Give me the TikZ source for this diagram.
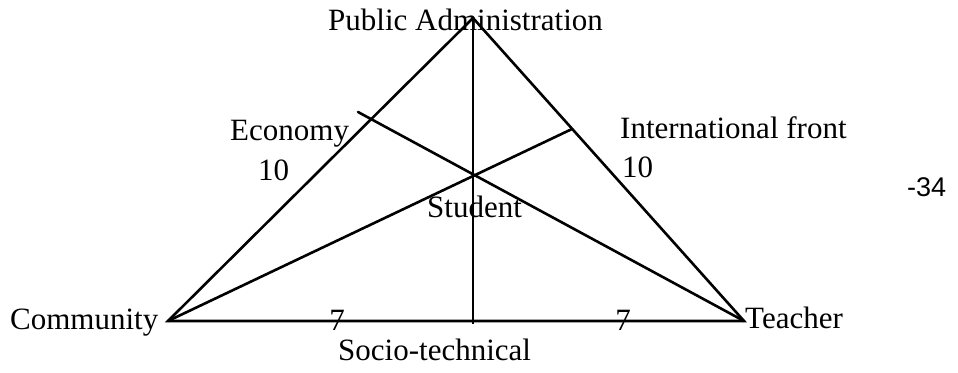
\documentclass[tikz,border=0pt]{standalone}
\usepackage{fontspec}
\setmainfont{Liberation Serif}
\newfontfamily\numfont{Liberation Sans}
\usepackage{tikz}
\usetikzlibrary{positioning,calc}

\tikzset{
  side/.style={line width=2.6pt, line cap=round},
  axis/.style={line width=1.8pt},
  lbl/.style={anchor=base west, inner sep=0pt, font=\fontsize{31}{36}\selectfont},
  num/.style={anchor=base, inner sep=0pt, font=\fontsize{31}{36}\selectfont}
}

\begin{document}
\begin{tikzpicture}[x=1pt,y=-1pt]
\useasboundingbox (0,0) rectangle (958,372);
% corners of the triangle
\coordinate (pa) at (473,18);
\coordinate (cm) at (168,321);
\coordinate (tc) at (744,321);
\coordinate (st) at (473,175);
\coordinate (so) at (473,324);
\coordinate (ec) at (358,112);
\coordinate (in) at (572,129);
% triangle and its inner lines
\draw[side] (pa) -- (cm) -- (tc) -- cycle;
\draw[axis] (pa) -- (so);
\draw[side] (tc) -- (ec);
\draw[side] (cm) -- (in);
% labels
\node[lbl] (pal) at (328,30) {Public Administration};
\node[lbl] (ecl) at (230,140) {Economy};
\node[lbl] (ecn) at (258,180) {10};
\node[lbl] (inl) at (620,138) {International front};
\node[lbl] (inn) at (622,177) {10};
\node[lbl] (stl) at (427,217) {Student};
\node[lbl, font=\numfont\fontsize{27}{32}\selectfont] (pg) at (907,196) {-34};
\node[lbl] (cml) at (10,329) {Community};
\node[lbl] (tcl) at (745,328) {Teacher};
\node[num] (lft) at (337,330) {7};
\node[num] (rgt) at (623,330) {7};
\node[lbl] (sol) at (338,360) {Socio-technical};
\end{tikzpicture}
\end{document}
